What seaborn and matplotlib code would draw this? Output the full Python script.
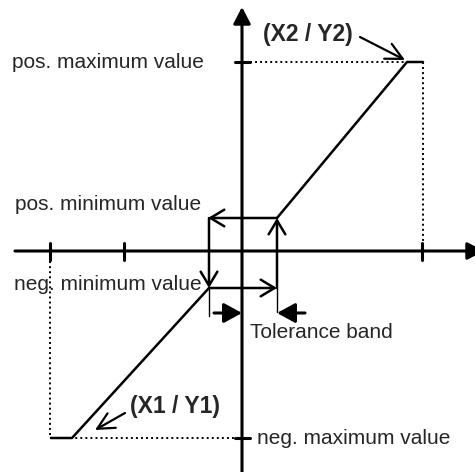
"""
Hysteresis transfer characteristic with tolerance band (schematic).
Coordinates are relative to the axis origin, one unit = one pixel.
"""

import matplotlib
matplotlib.use('Agg')
import matplotlib.pyplot as plt
import seaborn as sns
import pandas as pd

# --- diagram data ---
x_ticks = [-192, -118, 180]
y_ticks = [189, -187]

upper_branch_x = [35, 165, 181]      # pos. min -> (X2/Y2) -> saturation
upper_branch_y = [33, 189, 189]
lower_branch_x = [-33, -170, -191]   # neg. min -> (X1/Y1) -> saturation
lower_branch_y = [-37, -187, -187]

thresh_left, thresh_right = -33, 35  # switching points (tolerance band edges)
pos_min, neg_min = 33, -37

x2_y2 = (165, 189)
x1_y1 = (-170, -187)
x_sat_pos, x_sat_neg = 181, -192

# --- figure ---
sns.set_style("white")
plt.rcParams['font.family'] = ['Liberation Sans', 'DejaVu Sans']

fig = plt.figure(figsize=(4.75, 4.72), dpi=100)
ax = fig.add_axes([0, 0, 1, 1])
ax.set_xlim(-242, 233)
ax.set_ylim(-221, 251)
ax.axis('off')

black = 'black'
dots = (0, (1, 1.6))


def arrow(start, end, style, lw, scale=20):
    ax.annotate('', xy=end, xytext=start, annotation_clip=False,
                arrowprops=dict(arrowstyle=style, lw=lw, color=black,
                                mutation_scale=scale, shrinkA=0, shrinkB=0))


# axes with arrows
arrow((0, -221), (0, 244), '-|>,head_length=0.5,head_width=0.26', 2.2)
arrow((-227, 0), (242, 0), '-|>,head_length=0.5,head_width=0.26', 2.2)
for t in x_ticks:
    ax.plot([t, t], [-9, 8], color=black, lw=2.2)
for t in y_ticks:
    ax.plot([-7, 8], [t, t], color=black, lw=2.2)

# dotted guide lines
ax.plot([8, x2_y2[0] - 2], [y_ticks[0]] * 2, ls=dots, color=black, lw=1.4)
ax.plot([x_sat_pos] * 2, [y_ticks[0], 0], ls=dots, color=black, lw=1.4)
ax.plot([x_sat_neg] * 2, [0, y_ticks[1]], ls=dots, color=black, lw=1.4)
ax.plot([x_sat_neg, -5], [y_ticks[1]] * 2, ls=dots, color=black, lw=1.4)

# transfer curve branches
branches = pd.DataFrame({
    'x': upper_branch_x + lower_branch_x,
    'y': upper_branch_y + lower_branch_y,
    'branch': ['upper'] * 3 + ['lower'] * 3,
})
sns.lineplot(data=branches, x='x', y='y', units='branch', estimator=None,
             sort=False, color=black, lw=1.8, ax=ax)

# hysteresis loop with open arrow heads
loop = [((thresh_right, pos_min), (thresh_left - 1, pos_min)),
        ((thresh_left, pos_min), (thresh_left, neg_min)),
        ((thresh_left, neg_min), (thresh_right, neg_min)),
        ((thresh_right, neg_min), (thresh_right, pos_min))]
for start, end in loop:
    arrow(start, end, '->,head_length=0.5,head_width=0.3', 1.8)

# tolerance band marks
ax.plot([thresh_left] * 2, [neg_min, neg_min - 28], color=black, lw=1)
ax.plot([thresh_right] * 2, [neg_min, neg_min - 24], color=black, lw=1)
arrow((thresh_left + 5, neg_min - 25), (0, neg_min - 25),
      '-|>,head_length=0.55,head_width=0.3', 2.2)
arrow((thresh_right + 28, neg_min - 25), (thresh_right, neg_min - 25),
      '-|>,head_length=0.55,head_width=0.3', 2.2)

# labels
fs = 15
ax.text(-230, 189, 'pos. maximum value', fontsize=fs, va='center', ha='left')
ax.text(-227, 46, 'pos. minimum value', fontsize=fs, va='center', ha='left')
ax.text(-228, -34, 'neg. minimum value', fontsize=fs, va='center', ha='left')
ax.text(8, -81, 'Tolerance band', fontsize=fs, va='center', ha='left')
ax.text(15, -187, 'neg. maximum value', fontsize=fs, va='center', ha='left')

ax.text(21, 216, '(X2 / Y2)', fontsize=16.5, fontweight='bold', va='center', ha='left')
arrow((118, 214), (x2_y2[0] - 2, x2_y2[1] + 2), '->,head_length=0.6,head_width=0.3', 1.6)
ax.text(-112, -156, '(X1 / Y1)', fontsize=16.5, fontweight='bold', va='center', ha='left')
arrow((-117, -162), (-147, -179), '->,head_length=0.6,head_width=0.3', 1.6)

fig.savefig('out.png', dpi=100)
